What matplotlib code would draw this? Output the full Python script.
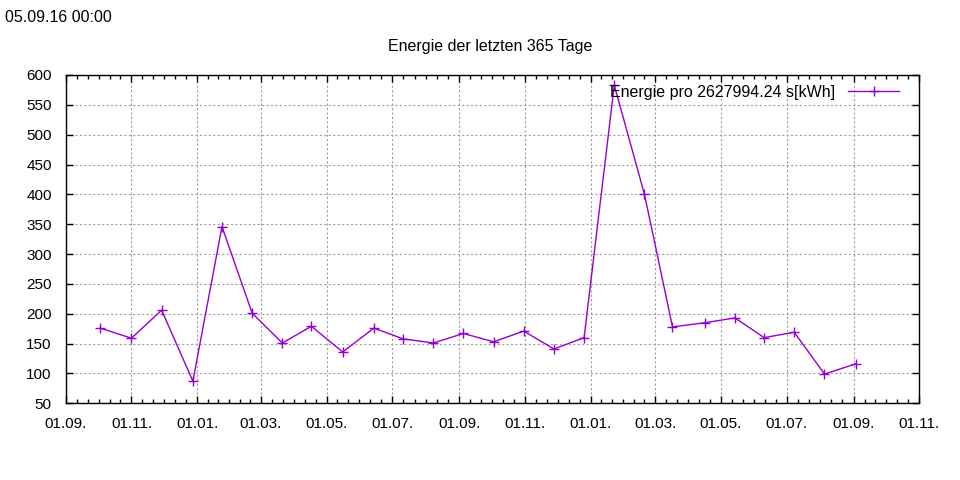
import matplotlib
matplotlib.use("Agg")
import matplotlib.pyplot as plt
import matplotlib.dates as mdates
import pandas as pd

plt.rcParams['font.family'] = ['Liberation Sans', 'DejaVu Sans']

# energie pro zeitraum (kWh)
dates = ["2014-10-03", "2014-11-01", "2014-11-29", "2014-12-28", "2015-01-24",
         "2015-02-21", "2015-03-21", "2015-04-17", "2015-05-16", "2015-06-14",
         "2015-07-11", "2015-08-08", "2015-09-05", "2015-10-03", "2015-10-31",
         "2015-11-28", "2015-12-26", "2016-01-23", "2016-02-20", "2016-03-17",
         "2016-04-16", "2016-05-14", "2016-06-10", "2016-07-08", "2016-08-05",
         "2016-09-03"]
energie = [176, 159, 206, 87, 346, 201, 151, 179, 136, 176,
           158, 151, 167, 153, 171, 141, 160, 583, 400, 178,
           185, 193, 160, 169, 99, 116]

x_ticks = ["2014-09-01", "2014-11-01", "2015-01-01", "2015-03-01", "2015-05-01",
           "2015-07-01", "2015-09-01", "2015-11-01", "2016-01-01", "2016-03-01",
           "2016-05-01", "2016-07-01", "2016-09-01", "2016-11-01"]
x_labels = ["01.09.", "01.11.", "01.01.", "01.03.", "01.05.", "01.07.", "01.09.",
            "01.11.", "01.01.", "01.03.", "01.05.", "01.07.", "01.09.", "01.11."]
y_ticks = list(range(50, 601, 50))

farbe = "#9400d3"

t = pd.to_datetime(dates)
xt = mdates.date2num(pd.to_datetime(x_ticks))

fig = plt.figure(figsize=(9.6, 4.8), dpi=100)
ax = fig.add_axes([65.7 / 960, 1 - 403.3 / 480, (919.3 - 65.7) / 960, (403.3 - 75) / 480])

ax.plot(t, energie, color=farbe, lw=1, marker="+", ms=6.5, mew=1,
        label="Energie pro 2627994.24 s[kWh]")

ax.set_xlim(xt[0], xt[-1])
ax.set_ylim(50, 600)
ax.set_xticks(xt)
ax.set_xticklabels(x_labels)
# 5 minor ticks zwischen den major ticks
minor = []
for a, b in zip(xt[:-1], xt[1:]):
    minor += [a + (b - a) * k / 6 for k in range(1, 6)]
ax.set_xticks(minor, minor=True)
ax.set_yticks(y_ticks)

ax.grid(True, which="major", color="#a0a0a0", ls=(0, (2, 2)), lw=0.8)
ax.tick_params(which="both", direction="in", top=True, right=True,
               labelsize=11, colors="black")
ax.tick_params(axis="y", pad=10)
ax.tick_params(axis="x", pad=10)
ax.tick_params(which="major", length=5, width=1)
ax.tick_params(which="minor", length=3, width=1)
for s in ax.spines.values():
    s.set_linewidth(1)

leg = ax.legend(loc="upper right", frameon=False, fontsize=11.5,
                markerfirst=False, handlelength=3.2, borderaxespad=0.2,
                handletextpad=0.8, bbox_to_anchor=(0.988, 1.0))

fig.text(490 / 960, 1 - 47 / 480, "Energie der letzten 365 Tage", ha="center",
         va="center", fontsize=11.5)
fig.text(5 / 960, 1 - 17 / 480, "05.09.16 00:00", ha="left", va="center",
         fontsize=11.5)

fig.savefig("out.png", dpi=100)
